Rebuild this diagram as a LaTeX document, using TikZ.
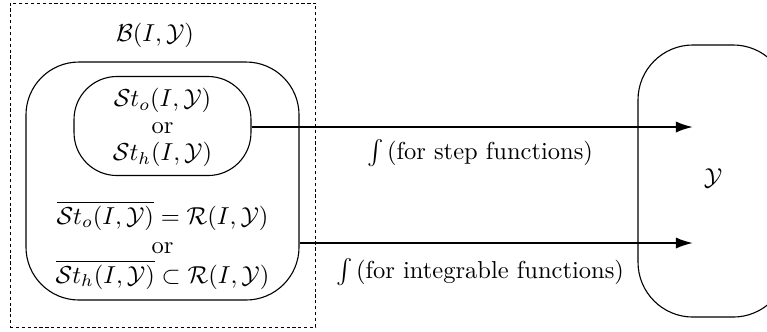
\documentclass[tikz,border=0pt]{standalone}
\usetikzlibrary{arrows.meta}
\begin{document}
\begin{tikzpicture}[x=0.408pt,y=-0.408pt,
  frame/.style={draw, line width=0.4pt, dash pattern=on 1.3pt off 1.1pt, minimum width=124.8pt, minimum height=132.2pt, inner sep=0pt},
  rbox/.style={draw, line width=0.45pt, inner sep=0pt},
  arr/.style={-{Latex[length=7pt,width=4.6pt]}, line width=0.85pt},
  lbl/.style={inner sep=1pt}]
\useasboundingbox (0,0) rectangle (767,331);
\node[frame] (frame) at (163,165) {};
\node[lbl] (btxt) at (155,35) {$\mathcal{B}(I,\mathcal{Y})$};
\node[rbox, rounded corners=21.6pt, minimum width=111.4pt, minimum height=97.1pt] (outer) at (162.5,181) {};
\node[rbox, rounded corners=17.5pt, minimum width=72.2pt, minimum height=40.4pt] (inner) at (162.5,126) {};
\node[lbl, align=center] (stxt) at (162.5,127.5) {$\mathcal{S}t_o(I,\mathcal{Y})$\\[-1pt] or\\[-1pt] $\mathcal{S}t_h(I,\mathcal{Y})$};
\node[lbl, align=center] (rtxt) at (162.5,245) {$\overline{\mathcal{S}t_o(I,\mathcal{Y})}=\mathcal{R}(I,\mathcal{Y})$\\ or\\ $\overline{\mathcal{S}t_h(I,\mathcal{Y})}\subset\mathcal{R}(I,\mathcal{Y})$};
\node[rbox, rounded corners=22.4pt, minimum width=61.2pt, minimum height=111pt] (ybox) at (713,181) {};
\node[lbl] (ytxt) at (713,178) {$\mathcal{Y}$};
\coordinate (t1) at (693,127);
\coordinate (t2) at (693,243);
\draw[arr] (inner.east |- t1) -- (t1);
\draw[arr] (outer.east |- t2) -- (t2);
\node[lbl] (l1) at (480,153) {$\int$\kern1.5pt(for step functions)};
\node[lbl] (l2) at (480,272) {$\int$\kern1.5pt(for integrable functions)};
\end{tikzpicture}
\end{document}
